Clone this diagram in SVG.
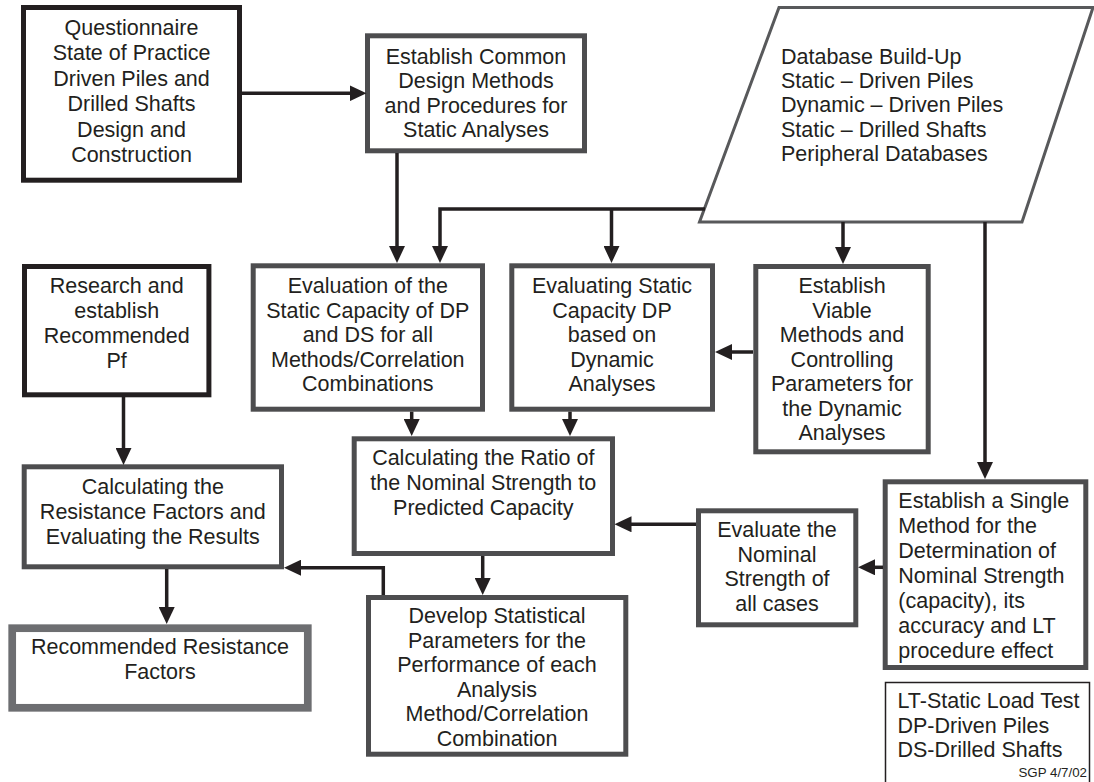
<svg xmlns="http://www.w3.org/2000/svg" width="1094" height="782" viewBox="0 0 1094 782">
<style>
text{font-family:"Liberation Sans",Arial,Helvetica,sans-serif;font-size:21.5px;fill:#231f20}
.c{text-anchor:middle}
.box{fill:#fff;stroke:#4d4d4f;stroke-width:5}
.dark{fill:#fff;stroke:#231f20;stroke-width:5}
.rec{fill:#fff;stroke:#6d6e71;stroke-width:7.7}
.para{fill:#fff;stroke:#58595b;stroke-width:3}
.leg{fill:#fff;stroke:#231f20;stroke-width:1.5}
.conn path{fill:none;stroke:#231f20;stroke-width:3.5}
.arr{marker-end:url(#ah)}
</style>
<defs>
<marker id="ah" viewBox="0 0 17 16" refX="7" refY="8" markerWidth="17" markerHeight="16" markerUnits="userSpaceOnUse" orient="auto">
<path d="M0,0 L17,8 L0,16 z" fill="#231f20"/>
</marker>
</defs>
<rect width="1094" height="782" fill="#fff"/>

<g id="n1">
<rect class="dark" x="23.5" y="7.5" width="216" height="172.7"/>
<text class="c" x="131.5"><tspan x="131.5" y="35">Questionnaire</tspan><tspan x="131.5" y="60.4">State of Practice</tspan><tspan x="131.5" y="85.8">Driven Piles and</tspan><tspan x="131.5" y="111.2">Drilled Shafts</tspan><tspan x="131.5" y="136.6">Design and</tspan><tspan x="131.5" y="162">Construction</tspan></text>
</g>

<g id="n2">
<rect class="box" x="367.5" y="35.8" width="217" height="115"/>
<text class="c"><tspan x="476" y="63.5">Establish Common</tspan><tspan x="476" y="88">Design Methods</tspan><tspan x="476" y="112.5">and Procedures for</tspan><tspan x="476" y="137">Static Analyses</tspan></text>
</g>

<g id="n3">
<polygon class="para" points="779,7.5 1093,7.5 1022,222 699.5,222"/>
<text><tspan x="781" y="63.5">Database Build-Up</tspan><tspan x="781" y="88">Static – Driven Piles</tspan><tspan x="781" y="112">Dynamic – Driven Piles</tspan><tspan x="781" y="136.5">Static – Drilled Shafts</tspan><tspan x="781" y="161">Peripheral Databases</tspan></text>
</g>

<g id="n4">
<rect class="box" x="253.2" y="265.8" width="229.3" height="143.4"/>
<text class="c"><tspan x="367.8" y="293.3">Evaluation of the</tspan><tspan x="367.8" y="317.8">Static Capacity of DP</tspan><tspan x="367.8" y="342.3">and DS for all</tspan><tspan x="367.8" y="366.8">Methods/Correlation</tspan><tspan x="367.8" y="391.3">Combinations</tspan></text>
</g>

<g id="n5">
<rect class="box" x="511.8" y="265.8" width="200.7" height="143.4"/>
<text class="c"><tspan x="612" y="293.3">Evaluating Static</tspan><tspan x="612" y="317.8">Capacity DP</tspan><tspan x="612" y="342.3">based on</tspan><tspan x="612" y="366.8">Dynamic</tspan><tspan x="612" y="391.3">Analyses</tspan></text>
</g>

<g id="n6">
<rect class="box" x="755.8" y="266.5" width="172.4" height="185.3"/>
<text class="c"><tspan x="842" y="293.3">Establish</tspan><tspan x="842" y="317.8">Viable</tspan><tspan x="842" y="342.3">Methods and</tspan><tspan x="842" y="366.8">Controlling</tspan><tspan x="842" y="391.3">Parameters for</tspan><tspan x="842" y="415.8">the Dynamic</tspan><tspan x="842" y="440.3">Analyses</tspan></text>
</g>

<g id="n7">
<rect class="dark" x="24.5" y="266.5" width="184.4" height="128.3"/>
<text class="c"><tspan x="116.7" y="293.3">Research and</tspan><tspan x="116.7" y="318.3">establish</tspan><tspan x="116.7" y="343.3">Recommended</tspan><tspan x="116.7" y="367.8">Pf</tspan></text>
</g>

<g id="n8">
<rect class="box" x="354.2" y="438.8" width="258.3" height="114.7"/>
<text class="c"><tspan x="483.3" y="465">Calculating the Ratio of</tspan><tspan x="483.3" y="490">the Nominal Strength to</tspan><tspan x="483.3" y="514.7">Predicted Capacity</tspan></text>
</g>

<g id="n9">
<rect class="box" x="24.2" y="466.8" width="257.3" height="100"/>
<text class="c"><tspan x="152.8" y="494">Calculating the</tspan><tspan x="152.8" y="519">Resistance Factors and</tspan><tspan x="152.8" y="544">Evaluating the Results</tspan></text>
</g>

<g id="n10">
<rect class="box" x="698.5" y="510.8" width="157.3" height="114"/>
<text class="c"><tspan x="777" y="536.7">Evaluate the</tspan><tspan x="777" y="561.5">Nominal</tspan><tspan x="777" y="586.3">Strength of</tspan><tspan x="777" y="611">all cases</tspan></text>
</g>

<g id="n11">
<rect class="box" x="885.2" y="481.8" width="200.6" height="185.7"/>
<text><tspan x="898.3" y="508.3">Establish a Single</tspan><tspan x="898.3" y="533">Method for the</tspan><tspan x="898.3" y="558">Determination of</tspan><tspan x="898.3" y="583">Nominal Strength</tspan><tspan x="898.3" y="608">(capacity), its</tspan><tspan x="898.3" y="633">accuracy and LT</tspan><tspan x="898.3" y="658">procedure effect</tspan></text>
</g>

<g id="n12">
<rect class="box" x="368.5" y="597.5" width="257.3" height="156.7"/>
<text class="c"><tspan x="497" y="623">Develop Statistical</tspan><tspan x="497" y="647.5">Parameters for the</tspan><tspan x="497" y="672">Performance of each</tspan><tspan x="497" y="696.5">Analysis</tspan><tspan x="497" y="721.3">Method/Correlation</tspan><tspan x="497" y="746">Combination</tspan></text>
</g>

<g id="n13">
<rect class="rec" x="12.2" y="628.2" width="295.6" height="79.6"/>
<text class="c"><tspan x="160" y="654">Recommended Resistance</tspan><tspan x="160" y="678.5">Factors</tspan></text>
</g>

<g id="legend">
<rect class="leg" x="885.5" y="682.5" width="204" height="120"/>
<text><tspan x="897.5" y="707.5">LT-Static Load Test</tspan><tspan x="897.5" y="732.5">DP-Driven Piles</tspan><tspan x="897.5" y="757">DS-Drilled Shafts</tspan></text>
<text x="1087" y="776.5" style="font-size:13.3px;text-anchor:end">SGP 4/7/02</text>
</g>

<g id="connectors" class="conn">
<path class="arr" d="M242,93.3 H356.5"/>
<path class="arr" d="M397,153 V253"/>
<path class="arr" d="M705,209 H440 V253"/>
<path class="arr" d="M611.5,209 V253"/>
<path class="arr" d="M843,222 V254"/>
<path class="arr" d="M985,222 V469"/>
<path class="arr" d="M753,352 H725"/>
<path class="arr" d="M411.7,411.7 V426"/>
<path class="arr" d="M570,411.7 V426"/>
<path class="arr" d="M696,524.3 H624.5"/>
<path class="arr" d="M883,567.3 H868"/>
<path class="arr" d="M123.5,397 V455"/>
<path class="arr" d="M166.7,569 V614"/>
<path class="arr" d="M482.7,556 V585"/>
<path class="arr" d="M383.3,595 V567.7 H294"/>
</g>
</svg>
